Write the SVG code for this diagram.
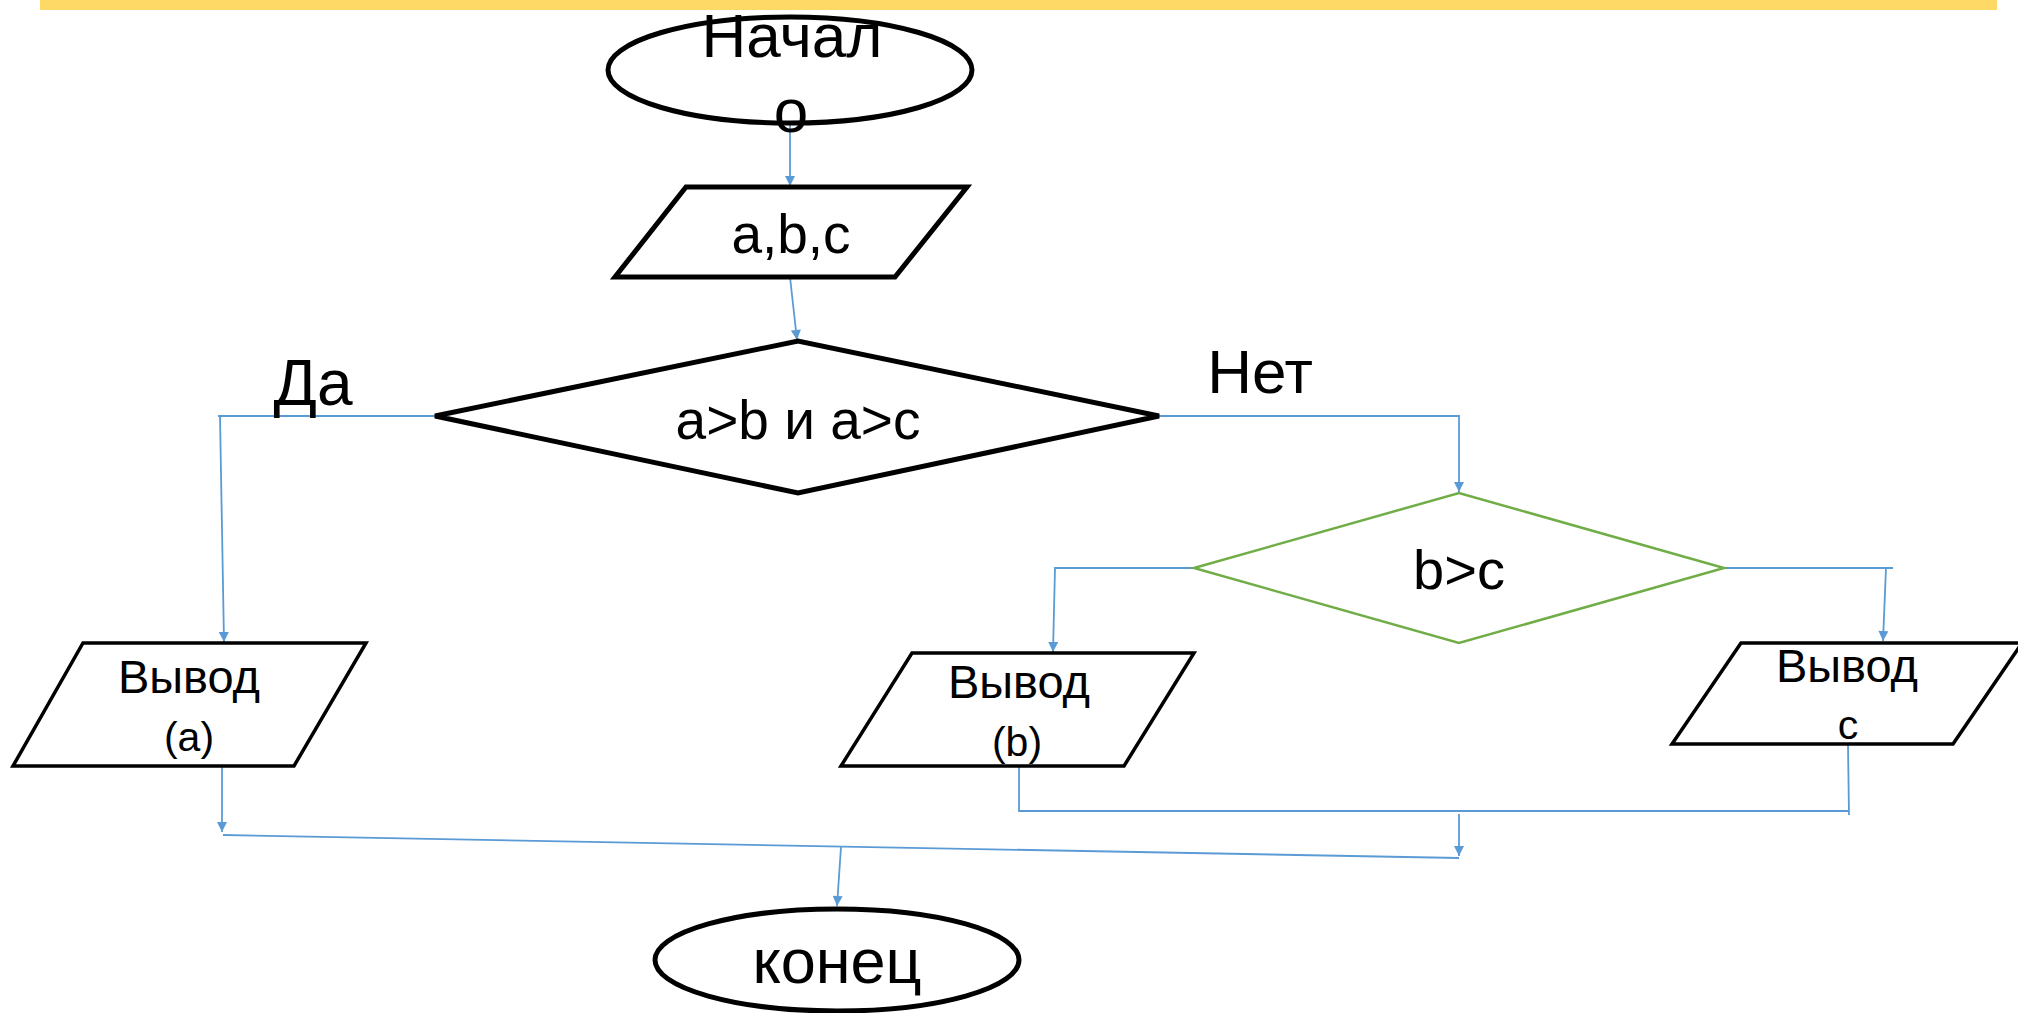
<svg xmlns="http://www.w3.org/2000/svg" width="2018" height="1013" viewBox="0 0 2018 1013">
<defs>
<style>
.t{font-family:"Liberation Sans",Arial,sans-serif;fill:#000;text-anchor:middle}
.k{fill:#fff;stroke:#000;stroke-width:5}
.k3{fill:#fff;stroke:#000;stroke-width:3.5}
.c{fill:none;stroke:#5B9BD5;stroke-width:1.8}
</style>
<marker id="ar2" viewBox="0 0 10 10" refX="10" refY="5" markerWidth="14" markerHeight="10" markerUnits="userSpaceOnUse" orient="auto"><path d="M0,0 L10,5 L0,10 z" fill="#5B9BD5"/></marker>
</defs>
<rect width="2018" height="1013" fill="#fff"/>
<rect x="40" y="0" width="1957" height="10" fill="#FFD966"/>

<g id="connectors">
<line class="c" x1="790" y1="123" x2="790" y2="186" marker-end="url(#ar2)"/>
<line class="c" x1="790" y1="277" x2="797" y2="340" marker-end="url(#ar2)"/>
<polyline class="c" points="435,416 218,416"/>
<line class="c" x1="220" y1="416" x2="224" y2="642" marker-end="url(#ar2)"/>
<polyline class="c" points="1158,416 1459,416 1459,492" marker-end="url(#ar2)"/>
<polyline class="c" points="1194,568 1055,568 1053,652" marker-end="url(#ar2)"/>
<polyline class="c" points="1724,568 1893,568"/>
<line class="c" x1="1886" y1="568" x2="1883" y2="641" marker-end="url(#ar2)"/>
<line class="c" x1="222" y1="766" x2="222" y2="832" marker-end="url(#ar2)"/>
<polyline class="c" points="1019,766 1019,811 1849,811"/>
<line class="c" x1="1848" y1="745" x2="1849" y2="815"/>
<line class="c" x1="1459" y1="814" x2="1459" y2="856" marker-end="url(#ar2)"/>
<line class="c" x1="223" y1="835" x2="1459" y2="858"/>
<line class="c" x1="841" y1="847" x2="837" y2="906" marker-end="url(#ar2)"/>
</g>

<g id="start">
<ellipse class="k" cx="790" cy="70" rx="182" ry="53"/>
<text class="t" x="792" y="57" font-size="62">Начал</text>
<text class="t" x="791" y="132" font-size="62">о</text>
</g>

<g id="input">
<polygon class="k" points="686,187 967,187 895,277 615,277"/>
<text class="t" x="791" y="253" font-size="55">a,b,c</text>
</g>

<g id="cond1">
<polygon class="k" points="435,416 798,341 1159,416 798,493"/>
<text class="t" x="798" y="439" font-size="55">a&gt;b и a&gt;c</text>
</g>

<g id="label-yes"><text class="t" x="313" y="405" font-size="64">Да</text></g>
<g id="label-no"><text class="t" x="1260" y="393" font-size="62">Нет</text></g>

<g id="cond2">
<polygon points="1194,568 1459,493 1724,568 1459,643" fill="#fff" stroke="#70AD47" stroke-width="2.5"/>
<text class="t" x="1459" y="589" font-size="56">b&gt;c</text>
</g>

<g id="out-a">
<polygon class="k3" points="83,643 366,643 294,766 13,766"/>
<text class="t" x="189" y="693" font-size="47">Вывод</text>
<text class="t" x="189" y="751" font-size="41">(a)</text>
</g>

<g id="out-b">
<polygon class="k3" points="912,653 1194,653 1124,766 841,766"/>
<text class="t" x="1019" y="698" font-size="47">Вывод</text>
<text class="t" x="1017" y="756" font-size="41">(b)</text>
</g>

<g id="out-c">
<polygon class="k3" points="1741,643 2022,643 1953,744 1672,744"/>
<text class="t" x="1847" y="682" font-size="47">Вывод</text>
<text class="t" x="1848" y="739" font-size="41">c</text>
</g>

<g id="end">
<ellipse class="k" cx="837" cy="960" rx="182" ry="51"/>
<text class="t" x="837" y="983" font-size="63">конец</text>
</g>
</svg>
